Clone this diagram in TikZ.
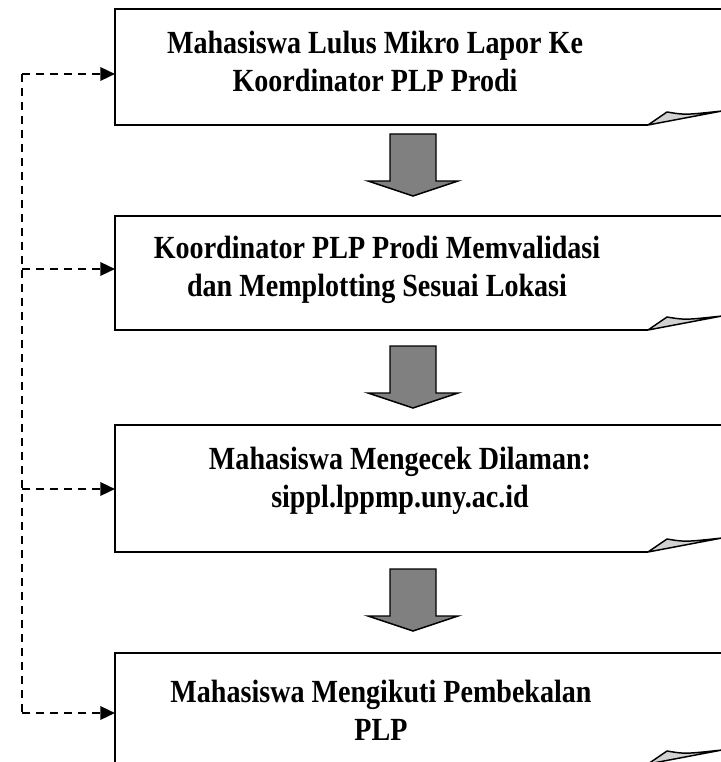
\documentclass[tikz,border=0pt]{standalone}
\usepackage{fontspec}
\setmainfont{Liberation Serif}[FakeStretch=0.87]
\usepackage{tikz}
\usetikzlibrary{positioning, arrows.meta, fit, calc}

\begin{document}
\begin{tikzpicture}[x=0.75pt, y=-0.75pt]
\tikzstyle{frame}=[rectangle, inner sep=0pt, outer sep=0pt]
\tikzstyle{steptext}=[align=center, inner sep=0pt, font=\fontsize{24.2}{28.5}\selectfont\bfseries]
\tikzstyle{feedback}=[dash pattern=on 6pt off 4.5pt, line width=1.8pt]
\tikzstyle{bigarrow}=[draw, fill=gray, line width=1.1pt, line join=miter]

\useasboundingbox (0,0) rectangle (720,762);

% step boxes
\node[frame, fit={(115,9) (720,125)}] (box1) {};
\node[frame, fit={(115,216) (720,330)}] (box2) {};
\node[frame, fit={(115,425) (720,552)}] (box3) {};
\node[frame, fit={(115,653) (720,764)}] (box4) {};

\foreach \b in {box1,box2,box3,box4}{
  \path[draw, line width=1.6pt] ($(\b.north east)+(10,0)$) -- (\b.north west) -- (\b.south west) -- ($(\b.south east)+(-72,0)$);
  \path[draw, line width=1.1pt, fill=gray!35, line join=round] ($(\b.south east)+(-72,0)$) -- ($(\b.south east)+(-53,-13)$)
    .. controls ($(\b.south east)+(-35,-10)$) .. ($(\b.south east)+(2,-14)$) -- cycle;
}

\node[steptext] (lapor) at (375,61) {Mahasiswa Lulus Mikro Lapor Ke\\Koordinator PLP Prodi};
\node[steptext] (validasi) at (377,270) {Koordinator PLP Prodi Memvalidasi\\dan Memplotting Sesuai Lokasi};
\node[steptext] (cek) at (400,481) {Mahasiswa Mengecek Dilaman:\\sippl.lppmp.uny.ac.id};
\node[steptext] (bekal) at (381,710) {Mahasiswa Mengikuti Pembekalan\\PLP};

% block arrows
\foreach \y in {165,377,600}
  \path[bigarrow] (390,\y-31) -- (436,\y-31) -- (436,\y+16) -- (458,\y+16) -- (413,\y+31)
    -- (368,\y+16) -- (390,\y+16) -- cycle;

% dashed feedback line
\coordinate (rail1) at (22,74);
\coordinate (rail2) at (22,269);
\coordinate (rail3) at (22,489);
\coordinate (rail4) at (22,713);
\path[draw, feedback] (rail1) -- (rail4);
\path[draw, feedback, -{Triangle[length=11pt, width=10pt]}] (rail1) -- (rail1 -| box1.west);
\path[draw, feedback, -{Triangle[length=11pt, width=10pt]}] (rail2) -- (rail2 -| box2.west);
\path[draw, feedback, -{Triangle[length=11pt, width=10pt]}] (rail3) -- (rail3 -| box3.west);
\path[draw, feedback, -{Triangle[length=11pt, width=10pt]}] (rail4) -- (rail4 -| box4.west);

\end{tikzpicture}
\end{document}
